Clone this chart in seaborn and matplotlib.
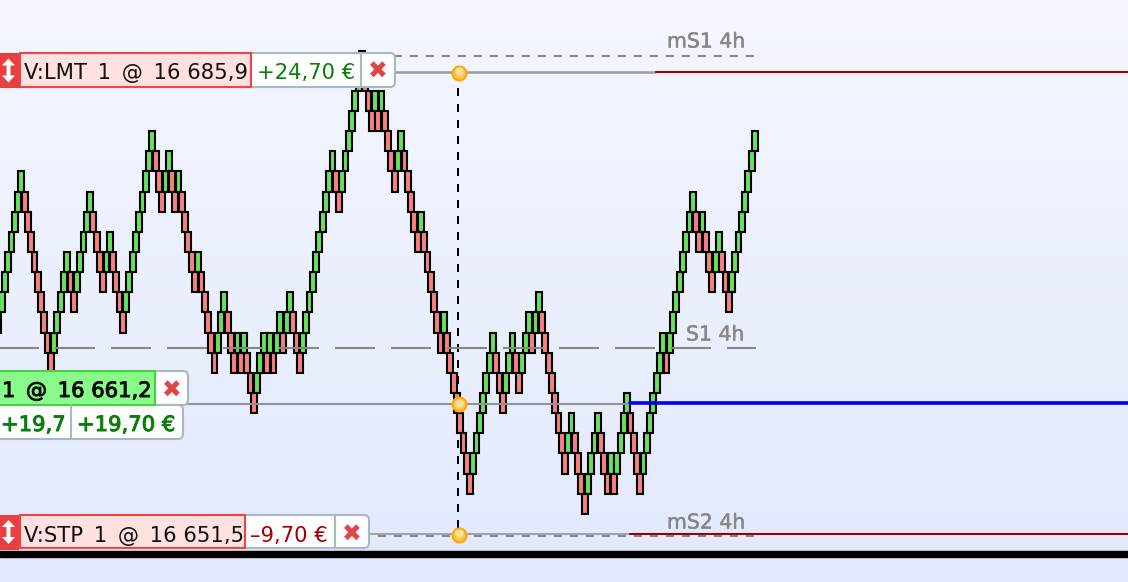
import numpy as np
import pandas as pd
import matplotlib
matplotlib.use("Agg")
import matplotlib.pyplot as plt
import matplotlib.patheffects as pe
from matplotlib.patches import Rectangle, FancyBboxPatch
import seaborn as sns

# ---- data -------------------------------------------------------------
brick_rows = [11,10,9,8,7,6,5,4,5,6,7,8,9,10,11,12,13,12,11,10,9,8,9,10,9,8,7,6,5,6,7,8,9,8,7,8,9,10,11,10,
              9,8,7,6,5,4,3,2,3,4,5,4,3,4,5,4,5,6,7,8,9,8,9,10,11,12,13,12,11,10,11,12,13,12,13,12,13,14,15,14,
              13,12,13,12,13,12,11,12,11,10,11,12,13,12,11,10,9,8,7,6,5,4,3,4,5,4,3,2,1,0,-1,-2,-1,0,1,0,1,0,1,2,
              3,4,3,2,3,4,5,6,7,6,7,8,9,10,11,12,11,12,13,14,15,16,17,18,19,18,17,16,15,14,13,12,13,14,15,14,13,12,13,14,
              13,12,11,12,11,10,11,12,13,14,15,16,17,18,17,16,17,18,19,20,19,18,17,16,17,18,19,18,19,18,17,16,15,16,17,18,19,18,17,16,
              15,14,13,12,13,12,11,10,9,8,7,6,5,6,7,6,7,8,9,8,7,8,9,10,9,8,7,6,5,4,3,2]
top_level_price = 16684.5
brick_size = 1.5

order_prices = [16685.9, 16661.2, 16651.5]
pivot_prices = [16687.1, 16665.35, 16651.35]
pivot_labels = ["mS1 4h", "S1 4h", "mS2 4h"]
order_texts = ["V:LMT\u20021\u2002@\u200216 685,9", "1\u2002@\u200216 661,2", "V:STP\u20021\u2002@\u200216 651,5"]
pnl_texts = ["+24,70 €", "+19,70 €", "–9,70 €"]
points_text = "+19,7"
entry_index = 140.3

# ---- figure -----------------------------------------------------------
W, H = 1128, 582
sns.set_theme(style="white")
plt.rcParams["font.family"] = ["DejaVu Sans"]
fig = plt.figure(figsize=(W / 100, H / 100), dpi=100)
ax = fig.add_axes([0, 0, 1, 1])

X0, DX = -1.6, 3.275
K = (order_prices[0] - order_prices[2]) / (534 - 72)
def ypx(p):
    return 72 + (order_prices[0] - p) / K

tops = top_level_price - brick_size * np.array(brick_rows)
rows = np.array(brick_rows)
up = np.r_[False, rows[1:] < rows[:-1]]
df = pd.DataFrame({"i": np.arange(len(rows)), "h": brick_size, "bottom": tops - brick_size, "up": up})

grad = np.linspace(0, 1, 256).reshape(-1, 1)
c_top, c_bot = np.array([244, 247, 255]) / 255, np.array([227, 233, 253]) / 255
img = (c_top + (c_bot - c_top) * grad[..., None])
ax.imshow(img, extent=[0, 1, 0, 1], transform=ax.transAxes, aspect="auto", zorder=0)

ax.plot([entry_index, entry_index], [order_prices[0], order_prices[2]], color="black", lw=1.44,
        dashes=(4, 4), zorder=1)

for flag, col in [(True, "#66e25c"), (False, "#f98080")]:
    sub = df[df["up"] == flag].sort_values("i")
    sns.barplot(data=sub, x="i", y="h", bottom=sub["bottom"].values, native_scale=True,
                color=col, saturation=1, width=1.78, edgecolor="black", linewidth=1.5,
                errorbar=None, ax=ax, zorder=3)

ax.set_xlim((0 - X0) / DX, (W - X0) / DX)
ax.set_ylim(order_prices[0] - (H - 72) * K, order_prices[0] + 72 * K)
ax.set_axis_off()

# ---- overlay in screen pixels ------------------------------------------
ui = fig.add_axes([0, 0, 1, 1], facecolor="none")
ui.set_xlim(0, W)
ui.set_ylim(H, 0)
ui.set_axis_off()

grey = "#878787"
# pivot dashes
yp = [ypx(p) for p in pivot_prices]
ui.plot([394, 755], [yp[0]] * 2, color=grey, lw=1.5, dashes=(3.84, 3.84), zorder=4)
ui.plot([-6, 756], [yp[1]] * 2, color=grey, lw=1.5, dashes=(19.2, 7.68), zorder=4)
ui.plot([378, 754], [yp[2]] * 2, color=grey, lw=1.5, dashes=(3.84, 3.84), zorder=4)
for txt, x, y in zip(pivot_labels, [667, 686, 667], [42, 335, 523]):
    ui.text(x, y, txt, color=grey, fontsize=14.7, ha="left", va="center", zorder=5,
            path_effects=[pe.withStroke(linewidth=0.35, foreground=grey)])

# order lines
yo = [ypx(p) for p in order_prices]
ui.plot([395, 655], [yo[0]] * 2, color="#9a9da0", lw=1.8, zorder=5)
ui.plot([656, W], [yo[0]] * 2, color="#a00000", lw=1.5, zorder=5)
ui.plot([186, 630], [yo[1]] * 2, color="#8f9396", lw=1.5, zorder=5)
ui.plot([630, W], [yo[1] - 0.3] * 2, color="#0000ee", lw=2.6, zorder=5)
ui.plot([369, 630], [yo[2]] * 2, color="#a2a5a8", lw=1.5, zorder=5)
ui.plot([630, W], [yo[2]] * 2, color="#a00000", lw=1.5, zorder=5)

# thick bottom line
ui.add_patch(Rectangle((0, 551), W, 5.5, color="black", zorder=6))

# order dots
for y in yo:
    ui.scatter([459], [y + 0.7], s=100, color="#ffc548", edgecolor="#fba90e", lw=1.6, zorder=7)
    ui.scatter([459], [y - 0.6], s=36, color="#ffe09a", lw=0, zorder=7)

def rbox(x0, y0, x1, y1, fc="white", ec="#a9b9c2", lw=1.5, z=8):
    ui.add_patch(FancyBboxPatch((x0 + 3, y0 + 3), x1 - x0 - 6, y1 - y0 - 6,
                                boxstyle="round,pad=3,rounding_size=5", fc=fc, ec=ec, lw=lw, zorder=z))

def rect(x0, y0, x1, y1, fc, ec, lw=1.5, z=9):
    ui.add_patch(Rectangle((x0, y0), x1 - x0, y1 - y0, fc=fc, ec=ec, lw=lw, zorder=z))

def cross(x, y):
    ui.text(x, y, "✖", color="#dd4747", fontsize=17, ha="center", va="center", zorder=11)

def updown(y):
    rect(-2, y - 17.5, 19, y + 17.5, "#e84040", "#e84040", lw=0)
    cx = 8.5
    outline = [(-6.5, -5), (0, -12), (6.5, -5), (2, -5), (2, 5), (6.5, 5), (0, 12), (-6.5, 5), (-2, 5), (-2, -5)]
    ui.fill([cx + a for a, _ in outline], [y + b for _, b in outline], color="white", lw=0, zorder=11)

font = 15.2
green = "#0a7d0a"
def bold(col):
    return [pe.withStroke(linewidth=0.7, foreground=col)]

# limit order tag
rbox(240, 53, 395, 87)
ui.plot([361, 361], [53, 87], color="#a9b9c2", lw=1.5, zorder=9)
rect(19.5, 53, 251, 87, "#ffe1e1", "#ee4444")
updown(70.5)
ui.text(24, 73, order_texts[0], color="#111111", fontsize=font, ha="left", va="center", zorder=11)
ui.text(257, 73, pnl_texts[0], color=green, fontsize=font, ha="left", va="center", zorder=11)
cross(378, 72)

# position tag
rbox(130, 371, 188, 405)
rect(-3, 371, 155, 405, "#88fb88", "#48cf48")
ui.text(2, 391, order_texts[1], color="#0a0a0a", fontsize=font, ha="left", va="center", zorder=11,
        path_effects=bold("#0a0a0a"))
cross(172, 391)
rbox(-20, 405, 183, 439)
ui.plot([71, 71], [405, 439], color="#a9b9c2", lw=1.5, zorder=9)
ui.text(1, 425, points_text, color=green, fontsize=font, ha="left", va="center", zorder=11,
        path_effects=bold(green))
ui.text(77, 425, pnl_texts[1], color=green, fontsize=font, ha="left", va="center", zorder=11,
        path_effects=bold(green))

# stop order tag
rbox(230, 515, 369, 548)
ui.plot([335, 335], [515, 548], color="#a9b9c2", lw=1.5, zorder=9)
rect(19.5, 515, 245, 548, "#ffe1e1", "#ee4444")
updown(532)
ui.text(24, 536, order_texts[2], color="#111111", fontsize=font, ha="left", va="center", zorder=11)
ui.text(250, 536, pnl_texts[2], color="#a00000", fontsize=font, ha="left", va="center", zorder=11)
cross(352, 535)

fig.savefig("out.png", dpi=100)
